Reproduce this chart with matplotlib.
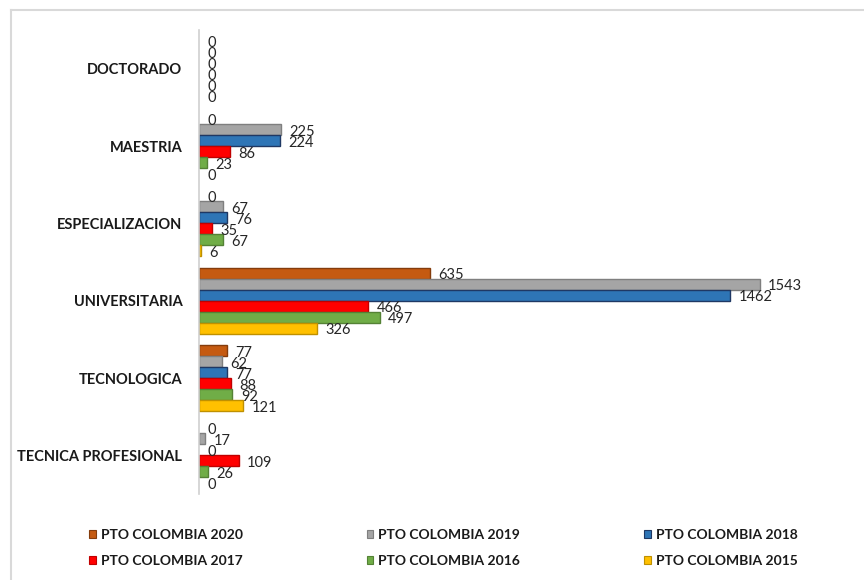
import matplotlib
matplotlib.use("Agg")
import matplotlib.pyplot as plt
from matplotlib.lines import Line2D
import numpy as np

categories = ["TECNICA PROFESIONAL", "TECNOLOGICA", "UNIVERSITARIA",
              "ESPECIALIZACION", "MAESTRIA", "DOCTORADO"]
series_names = ["PTO COLOMBIA 2020", "PTO COLOMBIA 2019", "PTO COLOMBIA 2018",
                "PTO COLOMBIA 2017", "PTO COLOMBIA 2016", "PTO COLOMBIA 2015"]
v2020 = [0, 77, 635, 0, 0, 0]
v2019 = [17, 62, 1543, 67, 225, 0]
v2018 = [0, 77, 1462, 76, 224, 0]
v2017 = [109, 88, 466, 35, 86, 0]
v2016 = [26, 92, 497, 67, 23, 0]
v2015 = [0, 121, 326, 6, 0, 0]
values = [v2020, v2019, v2018, v2017, v2016, v2015]

fills = ["#C55A11", "#A5A5A5", "#2E75B6", "#FF0000", "#70AD47", "#FFC000"]
edges = ["#843C0C", "#7F7F7F", "#1F3864", "#C00000", "#548235", "#BF9000"]

plt.rcParams['font.family'] = ['Lato', 'DejaVu Sans']

fig = plt.figure(figsize=(8.64, 5.8), dpi=100)
ax = fig.add_axes([199/864, 1-494/580, (835-199)/864, (494-30)/580])

y = np.arange(len(categories))
h = 0.1425
handles = []
for i, (vals, fc, ec, name) in enumerate(zip(values, fills, edges, series_names)):
    offs = (2.5 - i) * h
    lws = [1.0 if v > 0 else 0.0 for v in vals]
    bars = ax.barh(y + offs, vals, height=h, color=fc, edgecolor=ec,
                   linewidth=lws, label=name)
    handles.append(bars)
    for yy, v in zip(y + offs, vals):
        ax.annotate(str(v), xy=(v, yy), xytext=(6, -1.5), textcoords="offset points",
                    ha="left", va="center", fontsize=10.5, color="#262626")

ax.set_xlim(0, 1750)
ax.set_ylim(-0.5, 5.5)
ax.set_yticks(y)
ax.set_yticklabels(categories, fontsize=10.5, fontweight="bold", color="#1a1a1a")
ax.tick_params(axis="y", length=0, pad=12)
ax.set_xticks([])
for s in ["top", "right", "bottom"]:
    ax.spines[s].set_visible(False)
ax.spines["left"].set_color("#D0D0D0")
ax.spines["left"].set_linewidth(1.2)

legend_handles = [plt.Rectangle((0, 0), 1, 1, facecolor=fc, edgecolor=ec, linewidth=0.8)
                  for fc, ec in zip(fills, edges)]
order = [0, 3, 1, 4, 2, 5]
leg = fig.legend([legend_handles[k] for k in order], [series_names[k] for k in order],
                 ncol=3, loc="center", bbox_to_anchor=(0.513, 1-548/580),
                 frameon=False, handlelength=0.5, handleheight=0.5,
                 handletextpad=0.35, columnspacing=8.9, labelspacing=1.05,
                 prop={"size": 10, "weight": "bold"})
for t in leg.get_texts():
    t.set_color("#1a1a1a")

# partial chart-area border (top and left edges visible)
fig.add_artist(Line2D([11/864, 1.0], [1-10/580, 1-10/580], transform=fig.transFigure,
                      color="#D9D9D9", linewidth=1.5))
fig.add_artist(Line2D([11/864, 11/864], [0.0, 1-10/580], transform=fig.transFigure,
                      color="#D9D9D9", linewidth=1.5))

fig.savefig("out.png", dpi=100)
